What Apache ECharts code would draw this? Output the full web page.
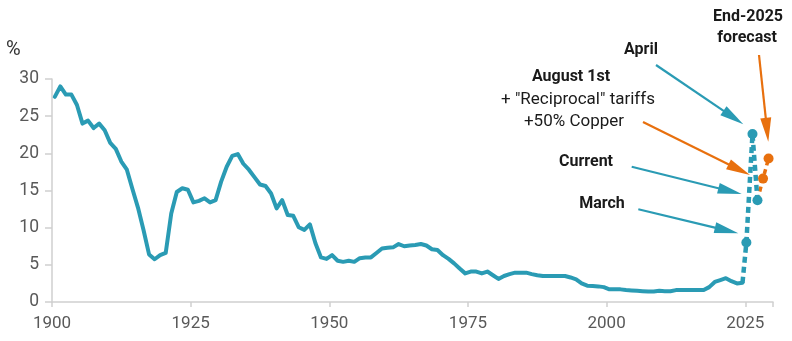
<!DOCTYPE html>
<html>
<head>
<meta charset="utf-8">
<script src="https://cdn.jsdelivr.net/npm/echarts@6/dist/echarts.min.js"></script>
<style>
  html, body { margin: 0; padding: 0; background: #ffffff; }
  #chart { width: 792px; height: 341px; }
</style>
</head>
<body>
<div id="chart"></div>
<script>
// Average US tariff rate, %, annual values from 1900 to 2024
const firstYear = 1900;
const tariffRate = [
  27.6, 29.0, 27.9, 27.9, 26.5, 24.0, 24.4, 23.4, 24.0, 23.1,
  21.4, 20.6, 18.9, 17.8, 15.2, 12.7, 9.7, 6.4, 5.75, 6.3,
  6.6, 11.9, 14.8, 15.3, 15.1, 13.4, 13.6, 13.95, 13.4, 13.7,
  16.2, 18.2, 19.65, 19.9, 18.6, 17.8, 16.8, 15.8, 15.6, 14.6,
  12.6, 13.7, 11.7, 11.6, 10.05, 9.7, 10.45, 7.9, 6.0, 5.8,
  6.3, 5.55, 5.4, 5.55, 5.4, 5.9, 6.0, 6.0, 6.6, 7.2,
  7.3, 7.35, 7.8, 7.5, 7.6, 7.67, 7.8, 7.6, 7.1, 7.0,
  6.3, 5.8, 5.2, 4.5, 3.85, 4.1, 4.1, 3.85, 4.1, 3.6,
  3.1, 3.5, 3.75, 3.95, 3.95, 3.95, 3.75, 3.6, 3.5, 3.5,
  3.5, 3.5, 3.5, 3.3, 3.05, 2.5, 2.2, 2.15, 2.1, 2.0,
  1.7, 1.7, 1.7, 1.6, 1.55, 1.5, 1.45, 1.4, 1.4, 1.5,
  1.45, 1.45, 1.6, 1.6, 1.6, 1.6, 1.6, 1.6, 2.0, 2.7,
  2.95, 3.2, 2.8, 2.5, 2.6
];

// 2025 effective rates, placed one slot apart after the annual series
const rate2025Labels = ['March', 'April', 'Current'];
const rate2025Slots  = [2025.2, 2026.3, 2027.2];
const rate2025Values = [8.0, 22.6, 13.7];

// Scenarios built on the current rate
const scenarioLabels = ['Current', 'August 1st', 'End-2025 forecast'];
const scenarioSlots  = [2027.2, 2028.2, 2029.2];
const scenarioValues = [13.7, 16.6, 19.3];

// Axis ticks
const xTicks = [1900, 1925, 1950, 1975, 2000, 2025];
const yTicks = [0, 5, 10, 15, 20, 25, 30];

const TEAL = '#2a9bb4';
const ORANGE = '#e8700e';
const AXIS_GREY = '#cfcfcf';
const LABEL_GREY = '#595959';
const INK = '#1a1a1a';

const NOTE_FONT = 'Roboto, "Noto Sans", sans-serif';
const TICK_FONT = 'Roboto, "Noto Sans", sans-serif';

// annual values sit at mid-year
const history = tariffRate.map((v, i) => [firstYear + i + 0.5, v]);
const lastPoint = history[history.length - 1];

const recent = [{ value: lastPoint, symbol: 'none' }].concat(
  rate2025Values.map((v, i) => ({ value: [rate2025Slots[i], v], name: rate2025Labels[i] }))
);
const scenarios = scenarioValues.map((v, i) => ({
  value: [scenarioSlots[i], v],
  name: scenarioLabels[i],
  symbol: i === 0 ? 'none' : 'circle'
}));

// arrow built from a shaft and a narrow triangular head
function arrow(x1, y1, x2, y2, color) {
  const dx = x2 - x1, dy = y2 - y1;
  const len = Math.sqrt(dx * dx + dy * dy);
  const ux = dx / len, uy = dy / len;
  const headLen = 24, halfW = 5.5;
  const bx = x2 - ux * headLen, by = y2 - uy * headLen;
  return {
    type: 'group',
    children: [
      { type: 'line', shape: { x1: x1, y1: y1, x2: bx + ux * 2, y2: by + uy * 2 },
        style: { stroke: color, lineWidth: 2.2 } },
      { type: 'polygon',
        shape: { points: [[x2, y2], [bx - uy * halfW, by + ux * halfW], [bx + uy * halfW, by - ux * halfW]] },
        style: { fill: color } }
    ]
  };
}

function label(text, x, y, bold) {
  return {
    type: 'text', x: x, y: y,
    style: {
      text: text, fill: INK, align: 'center', verticalAlign: 'middle',
      font: (bold ? 'bold 16px ' : '17px ') + NOTE_FONT
    }
  };
}

const chart = echarts.init(document.getElementById('chart'), null, { renderer: 'canvas' });

chart.setOption({
  animation: false,
  backgroundColor: '#ffffff',
  grid: { left: 52, right: 19, top: 79, bottom: 39, containLabel: false },
  xAxis: {
    type: 'value',
    min: xTicks[0], max: 2030, interval: 25,
    axisLine: { show: true, lineStyle: { color: AXIS_GREY, width: 1.5 } },
    axisTick: { show: true, length: 5, lineStyle: { color: AXIS_GREY, width: 1.5 } },
    splitLine: { show: false },
    axisLabel: {
      color: LABEL_GREY, fontSize: 17, fontFamily: TICK_FONT, margin: 13,
      formatter: v => (xTicks.indexOf(v) >= 0 ? String(v) : '')
    }
  },
  yAxis: {
    type: 'value',
    min: yTicks[0], max: yTicks[yTicks.length - 1], interval: 5,
    axisLine: { show: true, lineStyle: { color: AXIS_GREY, width: 1.5 } },
    axisTick: { show: true, length: 7, lineStyle: { color: AXIS_GREY, width: 1.5 } },
    splitLine: { show: false },
    axisLabel: { color: LABEL_GREY, fontSize: 17.5, fontFamily: TICK_FONT, margin: 13 }
  },
  series: [
    {
      type: 'line', data: history, showSymbol: false, z: 3,
      lineStyle: { color: TEAL, width: 4, cap: 'round', join: 'round' },
      itemStyle: { color: TEAL }
    },
    {
      type: 'line', data: scenarios, z: 2,
      symbol: 'circle', symbolSize: 10, showSymbol: true,
      lineStyle: { color: ORANGE, width: 3.5, type: [5, 4] },
      itemStyle: { color: ORANGE }
    },
    {
      type: 'line', data: recent, z: 4,
      symbol: 'circle', symbolSize: 10, showSymbol: true,
      lineStyle: { color: TEAL, width: 4.5, type: [6, 4] },
      itemStyle: { color: TEAL }
    }
  ],
  graphic: [
    { type: 'text', x: 6, y: 50,
      style: { text: '%', fill: '#333333', font: '20px ' + TICK_FONT, verticalAlign: 'middle' } },

    label('End-2025', 748, 17, true),
    label('forecast', 747, 38, true),
    label('April', 641, 50, true),
    label('August 1st', 571, 77, true),
    label('+ "Reciprocal" tariffs', 578, 100, false),
    label('+50% Copper', 574, 122, false),
    label('Current', 586, 162, true),
    label('March', 602, 204, true),

    arrow(656, 65, 743.3, 124.3, TEAL),
    arrow(759, 55, 768.3, 141.7, ORANGE),
    arrow(643, 122, 750, 175, ORANGE),
    arrow(631.7, 166.7, 741.7, 194, TEAL),
    arrow(638.3, 209.3, 738.3, 233.3, TEAL)
  ]
});
</script>
</body>
</html>
